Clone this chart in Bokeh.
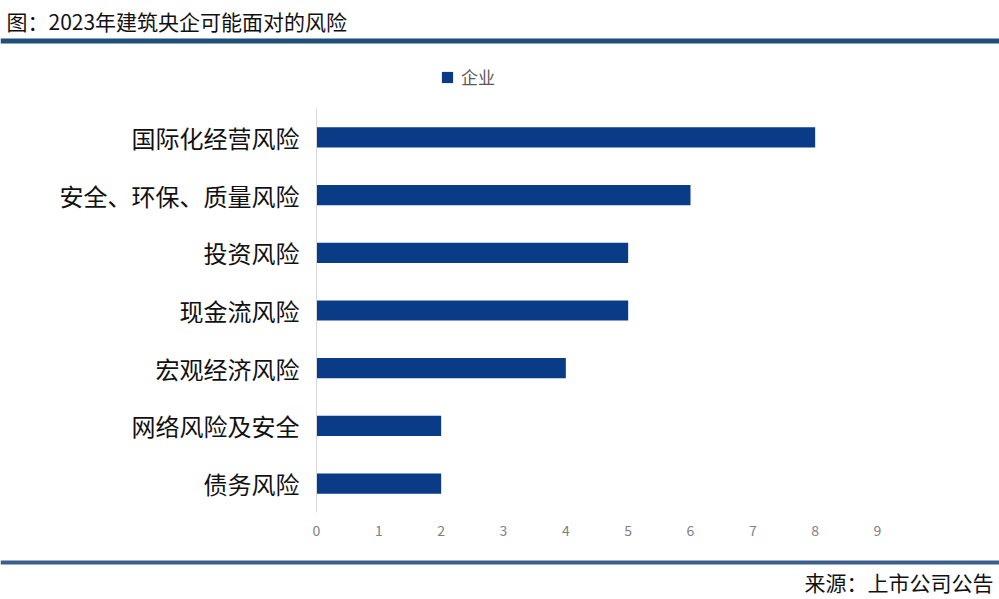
from bokeh.plotting import figure
from bokeh.models import (ColumnDataSource, FactorRange, Range1d, FixedTicker,
                          Legend, LegendItem, Span, Label)
from bokeh.layouts import column, row
from bokeh.embed import file_html
from bokeh.resources import INLINE

TITLE = "图：2023年建筑央企可能面对的风险"
SOURCE = "来源：上市公司公告"
SERIES_NAME = "企业"
categories = ["国际化经营风险", "安全、环保、质量风险", "投资风险", "现金流风险",
              "宏观经济风险", "网络风险及安全", "债务风险"]
values = [8, 6, 5, 5, 4, 2, 2]
x_ticks = [0, 1, 2, 3, 4, 5, 6, 7, 8, 9]

CJK = "Noto Sans CJK SC"
BAR = "#0a3b87"
W = 999

# ---- top: title + rule + legend ----
top = figure(width=W, height=108, x_range=Range1d(0, W), y_range=Range1d(108, 0),
             output_backend="svg", toolbar_location=None, min_border=0)
top.axis.visible = False
top.grid.visible = False
top.outline_line_color = None
top.add_layout(Label(x=6, y=20, text=TITLE, text_font=CJK, text_font_size="21px",
                     text_color="#111111", text_baseline="middle", text_align="left"))
top.add_layout(Span(location=40.5, dimension="width", line_color="#1f4e79", line_width=5))
# legend key (same style as the bars; no data of its own is drawn)
legend_glyph = top.hbar(y=[float("nan")], right=[float("nan")], left=0, height=1,
                        fill_color=BAR, line_color=None)
legend = Legend(items=[LegendItem(label=SERIES_NAME, renderers=[legend_glyph], index=0)],
                location=(440, 19), border_line_color=None,
                background_fill_alpha=0, padding=0, margin=0,
                glyph_width=14, glyph_height=14, label_height=20,
                label_standoff=7, label_text_font=CJK,
                label_text_font_size="17px", label_text_color="#595959")
top.add_layout(legend)

# ---- main chart ----
factors = list(reversed(categories))
src = ColumnDataSource(dict(cat=categories, val=values))
p = figure(width=W, height=447, y_range=FactorRange(factors=factors),
           x_range=Range1d(0, 9), output_backend="svg", toolbar_location=None,
           min_border_left=316, min_border_right=122, min_border_top=0,
           min_border_bottom=43)
r = p.hbar(y="cat", right="val", left=0, height=0.35, source=src,
           fill_color=BAR, line_color=None)
p.grid.visible = False
p.outline_line_color = None

xa = p.xaxis[0]
xa.ticker = FixedTicker(ticks=x_ticks)
xa.axis_line_color = None
xa.major_tick_line_color = None
xa.minor_tick_line_color = None
xa.major_tick_out = 0
xa.major_label_standoff = 12
xa.major_label_text_font = CJK
xa.major_label_text_font_size = "14px"
xa.major_label_text_color = "#7f7f7f"

ya = p.yaxis[0]
ya.axis_line_color = "#d9d9d9"
ya.axis_line_width = 1
ya.major_tick_line_color = None
ya.minor_tick_line_color = None
ya.major_tick_out = 0
ya.major_label_standoff = 17
ya.major_label_text_font = CJK
ya.major_label_text_font_size = "24px"
ya.major_label_text_color = "#111111"

# ---- bottom: rule + source ----
bot = figure(width=W, height=44, x_range=Range1d(0, W), y_range=Range1d(44, 0),
             output_backend="svg", toolbar_location=None, min_border=0)
bot.axis.visible = False
bot.grid.visible = False
bot.outline_line_color = None
bot.add_layout(Span(location=7, dimension="width", line_color="#3a5f8e", line_width=4))
bot.add_layout(Label(x=993, y=26, text=SOURCE, text_font=CJK, text_font_size="21px",
                     text_color="#111111", text_baseline="middle", text_align="right"))

layout = column(row(top), row(p), row(bot), spacing=0)
open("out.html", "w").write(file_html(layout, INLINE))
